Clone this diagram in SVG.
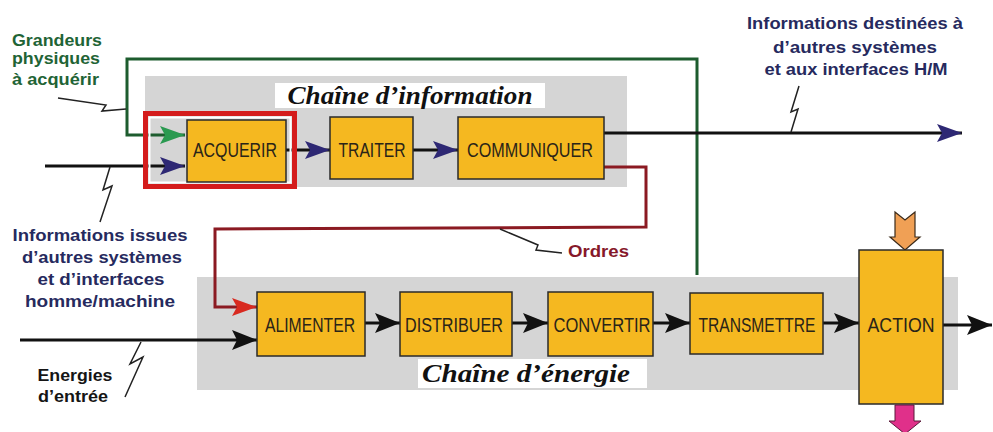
<svg xmlns="http://www.w3.org/2000/svg" width="993" height="432" viewBox="0 0 993 432">
<style>
.chain{fill:#d5d5d5}
.lbl{fill:#fff}
.box{fill:#f5b820;stroke:#2a2a2a;stroke-width:1.5}
.bt{font-family:"Liberation Sans",Arial,sans-serif;font-size:20px;fill:#2a2418;text-anchor:middle}
.title{font-family:"Liberation Serif","Times New Roman",serif;font-style:italic;font-weight:bold;font-size:25px;fill:#111;text-anchor:middle}
.lab{font-family:"Liberation Sans",Arial,sans-serif;font-weight:bold;font-size:17px}
.navy{fill:#262a5e}
.green{fill:#1f6436}
.blk{fill:#151515}
.red{fill:#86182a}
.ln{fill:none;stroke-width:3}
.zz{fill:none;stroke:#222;stroke-width:1.5}
</style>
<defs>
<marker id="aNavy" markerUnits="userSpaceOnUse" markerWidth="26" markerHeight="20" refX="25" refY="9" orient="auto" overflow="visible"><path d="M0,0 L25,9 L0,18 L5,9 Z" fill="#2e2874"/></marker>
<marker id="aGreen" markerUnits="userSpaceOnUse" markerWidth="26" markerHeight="20" refX="25" refY="9" orient="auto" overflow="visible"><path d="M0,0 L25,9 L0,18 L5,9 Z" fill="#2a9a50"/></marker>
<marker id="aRed" markerUnits="userSpaceOnUse" markerWidth="26" markerHeight="20" refX="25" refY="9" orient="auto" overflow="visible"><path d="M0,0 L25,9 L0,18 L5,9 Z" fill="#d82a20"/></marker>
<marker id="aBlk" markerUnits="userSpaceOnUse" markerWidth="26" markerHeight="22" refX="25" refY="10" orient="auto" overflow="visible"><path d="M0,0 L25,10 L0,20 L5,10 Z" fill="#111"/></marker>
</defs>

<!-- chain backgrounds -->
<g id="chaine-information">
<rect class="chain" x="145" y="76" width="482" height="111"/>
<rect class="lbl" x="275" y="83" width="270" height="25"/>
<text class="title" x="410" y="104" textLength="245" lengthAdjust="spacingAndGlyphs">Chaîne d’information</text>
</g>
<g id="chaine-energie">
<rect class="chain" x="197" y="277" width="761" height="113"/>
<rect class="lbl" x="418" y="359" width="229" height="29"/>
<text class="title" x="526" y="382" textLength="208" lengthAdjust="spacingAndGlyphs">Chaîne d’énergie</text>
</g>

<!-- connectors -->
<g id="connectors">
<polyline class="ln" stroke="#1d5c2e" points="697,275 697,59 127,59 127,135 185,135" marker-end="url(#aGreen)"/>
<line class="ln" stroke="#111" x1="45" y1="166" x2="185" y2="166" marker-end="url(#aNavy)"/>
<line class="ln" stroke="#111" x1="286" y1="150" x2="330" y2="150" marker-end="url(#aNavy)"/>
<line class="ln" stroke="#111" x1="413" y1="150" x2="458" y2="150" marker-end="url(#aNavy)"/>
<line class="ln" stroke="#111" x1="604" y1="133" x2="962" y2="133" marker-end="url(#aNavy)"/>
<polyline class="ln" stroke="#8b1a22" points="604,167 646,167 646,227 215,229 215,307 257,307" marker-end="url(#aRed)"/>
<line class="ln" stroke="#111" x1="20" y1="340" x2="257" y2="340" marker-end="url(#aBlk)"/>
<line class="ln" stroke="#111" x1="365" y1="323" x2="400" y2="323" marker-end="url(#aBlk)"/>
<line class="ln" stroke="#111" x1="512" y1="323" x2="548" y2="323" marker-end="url(#aBlk)"/>
<line class="ln" stroke="#111" x1="653" y1="323" x2="690" y2="323" marker-end="url(#aBlk)"/>
<line class="ln" stroke="#111" x1="823" y1="323" x2="859" y2="323" marker-end="url(#aBlk)"/>
<line class="ln" stroke="#111" x1="943" y1="325" x2="992" y2="325" marker-end="url(#aBlk)"/>
<!-- lightning leaders -->
<polyline class="zz" points="58,98 106,105 102,111 126,109"/>
<polyline class="zz" points="110,167 103,190 112,186 100,222"/>
<polyline class="zz" points="799,86 791,112 798,109 791,132"/>
<polyline class="zz" points="500,229 538,245 536,250 562,253"/>
<polyline class="zz" points="141,342 130,364 143,357 125,397"/>
</g>

<!-- information chain nodes -->
<g id="acquerir">
<rect x="145.5" y="113.5" width="149" height="73" fill="none" stroke="#d41c1c" stroke-width="5"/>
<rect x="149.5" y="117.5" width="141" height="65" fill="none" stroke="#fff" stroke-width="2"/>
<rect class="box" x="187" y="120" width="99" height="62"/>
<text class="bt" x="235" y="157" textLength="84" lengthAdjust="spacingAndGlyphs">ACQUERIR</text>
</g>
<g id="traiter">
<rect class="box" x="330" y="117" width="83" height="62"/>
<text class="bt" x="372" y="157" textLength="67" lengthAdjust="spacingAndGlyphs">TRAITER</text>
</g>
<g id="communiquer">
<rect class="box" x="458" y="117" width="146" height="62"/>
<text class="bt" x="530" y="157" textLength="126" lengthAdjust="spacingAndGlyphs">COMMUNIQUER</text>
</g>

<!-- energy chain nodes -->
<g id="alimenter">
<rect class="box" x="257" y="292" width="108" height="64"/>
<text class="bt" x="310" y="332" textLength="90" lengthAdjust="spacingAndGlyphs">ALIMENTER</text>
</g>
<g id="distribuer">
<rect class="box" x="400" y="292" width="112" height="64"/>
<text class="bt" x="454" y="332" textLength="98" lengthAdjust="spacingAndGlyphs">DISTRIBUER</text>
</g>
<g id="convertir">
<rect class="box" x="548" y="292" width="105" height="64"/>
<text class="bt" x="602" y="332" textLength="97" lengthAdjust="spacingAndGlyphs">CONVERTIR</text>
</g>
<g id="transmettre">
<rect class="box" x="690" y="293" width="133" height="61"/>
<text class="bt" x="757" y="332" textLength="117" lengthAdjust="spacingAndGlyphs">TRANSMETTRE</text>
</g>
<g id="action">
<path d="M895,212 L905,220 L915,212 L915,237 L920,237 L905,250 L890,237 L895,237 Z" fill="#f0a055" stroke="#3a2a1a" stroke-width="1.2"/>
<rect class="box" x="859" y="250" width="84" height="154"/>
<text class="bt" x="901" y="332" textLength="67" lengthAdjust="spacingAndGlyphs">ACTION</text>
<path d="M895,405 L914,405 L914,421 L921,421 L905,434 L889,421 L895,421 Z" fill="#e0308a" stroke="#5a1a3a" stroke-width="1"/>
</g>

<!-- labels -->
<g id="label-grandeurs" class="lab green">
<text x="12" y="46" textLength="90" lengthAdjust="spacingAndGlyphs">Grandeurs</text>
<text x="12" y="64" textLength="88" lengthAdjust="spacingAndGlyphs">physiques</text>
<text x="12" y="85" textLength="87" lengthAdjust="spacingAndGlyphs">à acquérir</text>
</g>
<g id="label-infos-destinees" class="lab navy" text-anchor="middle">
<text x="855" y="29" textLength="216" lengthAdjust="spacingAndGlyphs">Informations destinées à</text>
<text x="855" y="53" textLength="164" lengthAdjust="spacingAndGlyphs">d’autres systèmes</text>
<text x="856" y="75" textLength="183" lengthAdjust="spacingAndGlyphs">et aux interfaces H/M</text>
</g>
<g id="label-infos-issues" class="lab navy" text-anchor="middle">
<text x="100" y="241" textLength="175" lengthAdjust="spacingAndGlyphs">Informations issues</text>
<text x="102" y="263" textLength="160" lengthAdjust="spacingAndGlyphs">d’autres systèmes</text>
<text x="101" y="285" textLength="127" lengthAdjust="spacingAndGlyphs">et d’interfaces</text>
<text x="100" y="307" textLength="150" lengthAdjust="spacingAndGlyphs">homme/machine</text>
</g>
<g id="label-energies" class="lab blk" text-anchor="middle">
<text x="75" y="381" textLength="75" lengthAdjust="spacingAndGlyphs">Energies</text>
<text x="73" y="402" textLength="70" lengthAdjust="spacingAndGlyphs">d’entrée</text>
</g>
<g id="label-ordres" class="lab red">
<text x="568" y="257" textLength="61" lengthAdjust="spacingAndGlyphs">Ordres</text>
</g>
</svg>
